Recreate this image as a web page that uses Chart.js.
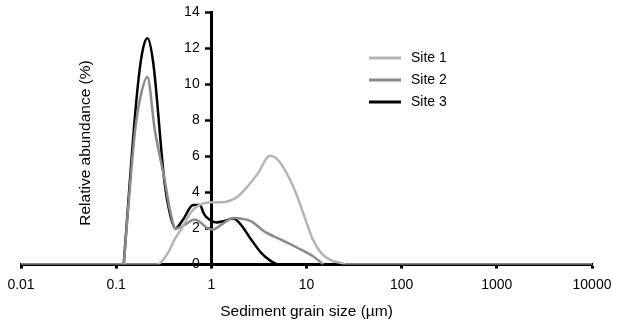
<!DOCTYPE html>
<html lang="en">
<head>
<meta charset="UTF-8">
<title>Sediment grain size</title>
<script src="https://cdn.jsdelivr.net/npm/chart.js"></script>
<style>
    body { margin: 0; background: #fff; }
    .chartBox { width: 618px; height: 321px; }
</style>
</head>
<body>
<div class="chartBox"><canvas id="chart" width="618" height="321"></canvas></div>
<script>
    // data
    const siteLabels = ['Site 1', 'Site 2', 'Site 3'];
    const siteColors = ['#b4b4b4', '#8a8a8a', '#000000'];

    const site1Size = [0.01, 0.27, 0.35, 0.41, 0.48, 0.62, 0.79, 1.0, 1.27, 1.56, 1.9, 2.4, 3.1, 4.1, 4.8, 5.9, 7.5, 9.5, 11.7, 14.2, 18.2, 23, 27, 10000];
    const site1Pct = [0, 0, 0.65, 1.38, 1.94, 2.95, 3.36, 3.45, 3.45, 3.54, 3.78, 4.33, 5.07, 6.03, 5.9, 5.26, 4.15, 2.67, 1.38, 0.65, 0.24, 0.09, 0, 0];

    const site2Size = [0.12, 0.157, 0.18, 0.213, 0.254, 0.323, 0.37, 0.42, 0.525, 0.668, 0.785, 0.9, 1.04, 1.27, 1.69, 2.15, 2.63, 3.6, 5.4, 8.1, 11.7, 14.3, 15];
    const site2Pct = [0, 7.3, 9.3, 10.4, 7.5, 4.7, 2.95, 2.0, 2.2, 2.5, 2.3, 2.03, 1.94, 2.2, 2.58, 2.53, 2.4, 1.84, 1.38, 0.92, 0.46, 0.1, 0];

    const site3Size = [0.12, 0.163, 0.187, 0.213, 0.245, 0.323, 0.366, 0.419, 0.505, 0.642, 0.754, 0.845, 0.95, 1.13, 1.33, 1.69, 1.98, 2.63, 3.34, 4.26, 5.0];
    const site3Pct = [0, 9.1, 11.7, 12.55, 11.2, 4.5, 2.85, 2.0, 2.5, 3.3, 3.3, 2.77, 2.5, 2.34, 2.4, 2.55, 2.3, 1.38, 0.65, 0.18, 0];

    const xTickValues = [0.01, 0.1, 1, 10, 100, 1000, 10000];
    const xTickLabels = ['0.01', '0.1', '1', '10', '100', '1000', '10000'];
    const yTickStep = 2;

    const fam = "'Liberation Sans', Arial, sans-serif";
    const font = { family: fam, size: 14 };
    const titleFont = { family: fam, size: 15.5 };

    function pts(xs, ys) {
        return xs.map((x, i) => ({ x: x, y: ys[i] }));
    }

    const sizes = [site1Size, site2Size, site3Size];
    const pcts = [site1Pct, site2Pct, site3Pct];

    const data = {
        datasets: siteLabels.map((label, i) => ({
            label: label,
            data: pts(sizes[i], pcts[i]),
            borderColor: siteColors[i],
            borderWidth: 2.5,
            pointRadius: 0,
            fill: false,
            cubicInterpolationMode: 'monotone'
        }))
    };

    // y axis title and the legend sit in odd spots, so draw them here
    const extras = {
        id: 'extras',
        afterDraw(chart) {
            const ctx = chart.ctx;
            ctx.save();
            ctx.fillStyle = '#000';
            ctx.textBaseline = 'middle';

            ctx.save();
            ctx.font = "15.5px " + fam;
            ctx.translate(86, 143);
            ctx.rotate(-Math.PI / 2);
            ctx.textAlign = 'center';
            ctx.fillText('Relative abundance (%)', 0, 0);
            ctx.restore();

            ctx.font = "14px " + fam;
            chart.data.datasets.forEach((ds, i) => {
                const y = 58 + i * 22;
                ctx.strokeStyle = ds.borderColor;
                ctx.lineWidth = 3;
                ctx.beginPath();
                ctx.moveTo(369, y);
                ctx.lineTo(401, y);
                ctx.stroke();
                ctx.textAlign = 'left';
                ctx.fillText(ds.label, 411, y);
            });
            ctx.restore();
        }
    };

    const config = {
        type: 'line',
        data: data,
        options: {
            responsive: false,
            animation: false,
            layout: { padding: { left: 21, right: 26, top: 12, bottom: 0 } },
            plugins: {
                legend: { display: false },
                tooltip: { enabled: false }
            },
            scales: {
                x: {
                    type: 'logarithmic',
                    min: 0.01,
                    max: 10000,
                    position: 'bottom',
                    afterBuildTicks: (scale) => {
                        scale.ticks = xTickValues.map(v => ({ value: v }));
                    },
                    // let the layout padding decide the plot edges, not the end labels
                    afterFit: (scale) => {
                        scale.paddingLeft = 0;
                        scale.paddingRight = 0;
                    },
                    ticks: {
                        callback: (value, index) => xTickLabels[index],
                        font: font,
                        color: '#000',
                        padding: 8,
                        maxRotation: 0,
                        autoSkip: false
                    },
                    grid: { drawOnChartArea: false, tickLength: 4, tickWidth: 3, tickColor: '#000' },
                    border: { color: '#000', width: 3 },
                    title: {
                        display: true,
                        text: 'Sediment grain size (µm)',
                        font: titleFont,
                        color: '#000',
                        padding: { top: 1, bottom: 0 }
                    }
                },
                y: {
                    min: 0,
                    max: 14,
                    position: { x: 1 },
                    ticks: {
                        stepSize: yTickStep,
                        font: font,
                        color: '#000',
                        // the label sits right on the axis line here, so pad it with spaces
                        callback: (value) => value + '   '
                    },
                    grid: { drawOnChartArea: false, tickLength: 5, tickWidth: 2.5, tickColor: '#000' },
                    border: { color: '#000', width: 3 }
                }
            }
        },
        plugins: [extras]
    };

    const myChart = new Chart(document.getElementById('chart'), config);
</script>
</body>
</html>
